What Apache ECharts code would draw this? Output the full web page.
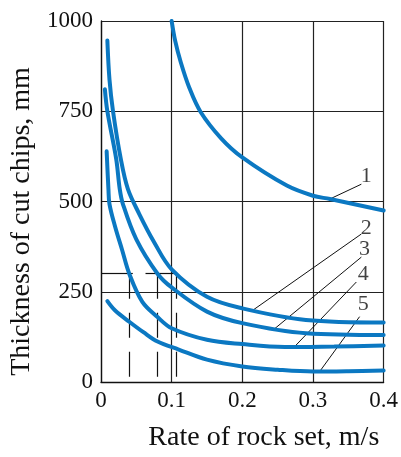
<!DOCTYPE html>
<html><head><meta charset="utf-8">
<script src="https://cdn.jsdelivr.net/npm/echarts@6/dist/echarts.min.js"></script>
<style>html,body{margin:0;padding:0;background:#fff}#c{width:401px;height:457px}</style>
</head><body><div id="c"></div>
<script>
var xTicks = [0, 0.1, 0.2, 0.3, 0.4];
var yTicks = [0, 250, 500, 750, 1000];
var curve1 = [[0.1,1000],[0.105,945],[0.113,885],[0.125,815],[0.141,748],[0.17,675],[0.2,622],[0.263,544],[0.3,516],[0.324,507],[0.4,475]];
var curve2 = [[0.009,946],[0.012,838],[0.017,750],[0.028,618],[0.038,535],[0.054,466],[0.075,388],[0.1,312],[0.15,236],[0.2,204],[0.29,172],[0.4,165]];
var curve3 = [[0.0055,811],[0.009,750],[0.0215,618],[0.0265,535],[0.031,493],[0.05,395],[0.08,300],[0.1,262],[0.15,195],[0.2,163],[0.29,135],[0.4,130]];
var curve4 = [[0.008,639],[0.0105,535],[0.012,493],[0.02,430],[0.03,365],[0.04,300],[0.0585,222],[0.08,180],[0.1,149],[0.15,117],[0.2,105],[0.26,97],[0.33,98],[0.4,101]];
var curve5 = [[0.009,224],[0.02,198],[0.04,167],[0.06,138],[0.08,112],[0.11,90],[0.15,62],[0.2,43],[0.25,34],[0.3,29],[0.35,30],[0.4,32]];
var labelNames = ['1','2','3','4','5'];
var leaderStart = [[0.324,507],[0.215,199],[0.2435,144],[0.274,98],[0.3095,29]];
var leaderEnd = [[0.3685,548],[0.3685,410],[0.3685,346],[0.3614,277],[0.366,181]];
var labelPos = [[0.3755,570],[0.3755,426],[0.373,368],[0.371,298],[0.371,215]];
var guideLevel = 300;
var guideX = [0.04, 0.08, 0.107];
var guideHSegments = [[0, 0.045], [0.063, 0.107]];

var serif = '"Liberation Serif","Times New Roman",serif';
var blue = '#0b78c2';
var curves = [curve1, curve2, curve3, curve4, curve5];
var series = curves.map(function (c) {
  return {type:'line', data:c, smooth:0.35, showSymbol:false, symbol:'none',
    lineStyle:{color:blue, width:4, cap:'round'}, silent:true, z:5};
});
var guideLines = [];
guideX.forEach(function (gx) {
  guideLines.push([{coord:[gx, guideLevel], lineStyle:{type:[25,14], color:'#111', width:1.2}}, {coord:[gx, 0]}]);
});
guideHSegments.forEach(function (s) {
  guideLines.push([{coord:[s[0], guideLevel], lineStyle:{type:'solid', color:'#111', width:1.2}}, {coord:[s[1], guideLevel]}]);
});
leaderStart.forEach(function (p, i) {
  guideLines.push([{coord:p, lineStyle:{type:'solid', color:'#111', width:1}}, {coord:leaderEnd[i]}]);
});
series.push({type:'line', data:[], silent:true, z:4,
  markLine:{silent:true, symbol:['none','none'], animation:false, label:{show:false}, data:guideLines}});
series.push({type:'scatter', symbolSize:0, silent:true, z:6,
  data:labelPos.map(function (p, i) { return {value:p, name:labelNames[i]}; }),
  label:{show:true, position:'inside', formatter:'{b}', color:'#111', fontFamily:serif, fontSize:22}});

var chart = echarts.init(document.getElementById('c'), null, {renderer:'canvas'});
chart.setOption({
  animation:false,
  backgroundColor:'#fff',
  grid:{left:101, right:17, top:21, bottom:73, containLabel:false},
  xAxis:{type:'value', min:xTicks[0], max:xTicks[xTicks.length-1], interval:0.1,
    name:'Rate of rock set, m/s', nameLocation:'middle', nameGap:42,
    nameTextStyle:{fontFamily:serif, fontSize:28, color:'#111', padding:[0,0,0,43]},
    axisLine:{lineStyle:{color:'#111', width:1.3}}, axisTick:{show:false},
    axisLabel:{fontFamily:serif, fontSize:23, color:'#111', margin:7,
      formatter:function (v) { return v === 0 ? '0' : v.toFixed(1); }},
    splitLine:{show:true, lineStyle:{color:'#222', width:1.2}}},
  yAxis:{type:'value', min:yTicks[0], max:yTicks[yTicks.length-1], interval:250,
    name:'Thickness of cut chips, mm', nameLocation:'middle', nameGap:62, nameRotate:90,
    nameTextStyle:{fontFamily:serif, fontSize:28, color:'#111', padding:[0,40,0,0]},
    axisLine:{show:true, lineStyle:{color:'#111', width:1.3}}, axisTick:{show:false},
    axisLabel:{fontFamily:serif, fontSize:23, color:'#111', margin:8,
      formatter:function (v) { return String(v); }},
    splitLine:{show:true, lineStyle:{color:'#222', width:1.2}}},
  series:series
});
</script></body></html>
